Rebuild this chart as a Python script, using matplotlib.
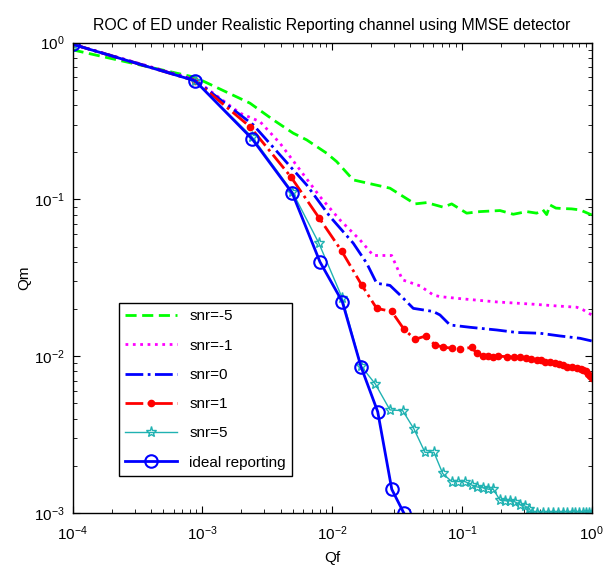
import numpy as np
import matplotlib
matplotlib.use("Agg")
import matplotlib.pyplot as plt

plt.rcParams['font.family'] = ['Liberation Sans', 'DejaVu Sans']
plt.rcParams['mathtext.default'] = 'regular'
plt.rcParams['mathtext.fontset'] = 'custom'
plt.rcParams['mathtext.rm'] = 'Liberation Sans'

# snr = -5
qf_m5 = [1e-4, 8.8e-4, 2.325e-3, 3.516e-3, 5.01e-3, 6.36e-3, 9.07e-3, 0.01083, 0.01454, 0.02789,
         0.04348, 0.05349, 0.0718, 0.0834, 0.1088, 0.1377, 0.1965, 0.2487, 0.3155, 0.3768,
         0.42, 0.45, 0.4772, 0.53, 0.6042, 0.7, 0.8124, 1.0]
qm_m5 = [0.898, 0.60, 0.4108, 0.3214, 0.2644, 0.2396, 0.197, 0.1742, 0.1331, 0.1179,
         0.0936, 0.0954, 0.0892, 0.0936, 0.0817, 0.0836, 0.0849, 0.0804, 0.0836, 0.0817,
         0.086, 0.080, 0.0922, 0.088, 0.0874, 0.087, 0.0857, 0.0796]

# snr = -1
qf_m1 = [1e-4, 8.8e-4, 1.948e-3, 2.778e-3, 3.96e-3, 5.65e-3, 8.05e-3, 0.01148, 0.01638, 0.02074,
         0.02874, 0.03482, 0.04751, 0.0601, 0.0677, 0.1024, 0.1853, 0.3548, 0.5374, 0.7665,
         0.8616, 1.0]
qm_m1 = [0.975, 0.58, 0.3546, 0.3134, 0.2283, 0.1542, 0.1042, 0.0740, 0.0552, 0.0439,
         0.0439, 0.0307, 0.0281, 0.0246, 0.0240, 0.0232, 0.0222, 0.02147, 0.02093, 0.02054,
         0.01974, 0.01834]

# snr = 0
qf_0 = [1e-4, 8.8e-4, 2.466e-3, 3.96e-3, 6.36e-3, 9.62e-3, 0.01454, 0.01845, 0.02203, 0.02789,
        0.03331, 0.04219, 0.0601, 0.0677, 0.0809, 0.1154, 0.1853, 0.2642, 0.3995, 0.5696,
        0.8124, 1.0]
qm_0 = [0.975, 0.575, 0.2986, 0.1922, 0.1237, 0.0777, 0.0526, 0.0392, 0.0292, 0.0283,
        0.0246, 0.0202, 0.0193, 0.01834, 0.01583, 0.0153, 0.01471, 0.01418, 0.01402, 0.01347,
        0.01302, 0.01252]

# snr = 1
qf_1 = [1e-4, 8.8e-4, 2.325e-3, 4.79e-3, 7.96e-3, 0.01183, 0.01688, 0.02203, 0.02874, 0.03576,
        0.04348, 0.05283, 0.06198, 0.0711, 0.0834, 0.0966, 0.1189, 0.1300, 0.1461, 0.16,
        0.175, 0.19, 0.2213, 0.25, 0.2802, 0.31, 0.34, 0.3768, 0.41, 0.44, 0.4772, 0.52,
        0.56, 0.6042, 0.65, 0.7, 0.7665, 0.82, 0.8616, 0.9, 0.9414, 0.97, 1.0]
qm_1 = [0.975, 0.57, 0.291, 0.1398, 0.0759, 0.0469, 0.0285, 0.0202, 0.0193, 0.01487,
        0.01284, 0.01347, 0.01181, 0.01146, 0.01125, 0.01113, 0.01138, 0.01045, 0.01004, 0.0101,
        0.00995, 0.01002, 0.00994, 0.0099, 0.00985, 0.0097, 0.00962, 0.00947, 0.0094, 0.00925, 0.00916, 0.009,
        0.00895, 0.0088, 0.0086, 0.00855, 0.00839, 0.0083, 0.00818, 0.008, 0.0077, 0.0075, 0.00724]

# snr = 5
qf_5 = [1e-4, 8.8e-4, 2.42e-3, 4.93e-3, 7.9e-3, 0.01197, 0.01668, 0.0215, 0.02789, 0.03496,
        0.04271, 0.0519, 0.06089, 0.0711, 0.0834, 0.0937, 0.1056, 0.1189, 0.13, 0.1461,
        0.1596, 0.1744, 0.1965, 0.2147, 0.2346, 0.2564, 0.2802, 0.3061, 0.3304, 0.3448,
        0.38, 0.42, 0.46, 0.5, 0.55, 0.6, 0.65, 0.7, 0.75, 0.8, 0.85, 0.9, 0.95, 1.0]
qm_5 = [0.975, 0.57, 0.25, 0.112, 0.0526, 0.0235, 0.00867, 0.00666, 0.00455, 0.0045,
        0.00344, 0.00244, 0.00244, 0.00179, 0.00159, 0.00159, 0.00159, 0.00151, 0.00147, 0.00145,
        0.00142, 0.00142, 0.00121, 0.0012, 0.0012, 0.00118, 0.00113, 0.00111, 0.00107, 0.001,
        0.001, 0.001, 0.001, 0.001, 0.001, 0.001, 0.001, 0.001, 0.001, 0.001, 0.001, 0.001, 0.001, 0.001]

# ideal reporting
qf_id = [1e-4, 8.8e-4, 2.42e-3, 4.93e-3, 8.05e-3, 0.01197, 0.01668, 0.02245, 0.0288, 0.0357]
qm_id = [0.975, 0.570, 0.243, 0.1096, 0.040, 0.0223, 0.00859, 0.00443, 0.00142, 0.001]

fig = plt.figure(figsize=(6.10, 5.67), dpi=100)
ax = fig.add_axes([0.119, 0.095, 0.851, 0.830])

ax.loglog(qf_m5, qm_m5, '--', color='#00ff00', lw=2.0, dashes=(4, 2), label='snr=-5')
ax.loglog(qf_m1, qm_m1, ':', color='#ff00ff', lw=2.0, label='snr=-1')
ax.loglog(qf_0, qm_0, '-.', color='#0000ff', lw=2.0, label='snr=0')
ax.loglog(qf_1, qm_1, '-.', color='#ff0000', lw=2.0, marker='.', ms=9, label='snr=1')
ax.loglog(qf_5, qm_5, '-', color='#20b2b2', lw=1.0, marker='*', ms=8, mfc='none', mew=1.0, label='snr=5')
ax.loglog(qf_id, qm_id, '-', color='#0000ff', lw=2.0, marker='o', ms=9, mfc='none', mew=1.5,
          label='ideal reporting')

ax.set_xlim(1e-4, 1)
ax.set_ylim(1e-3, 1)
ax.tick_params(which='both', direction='in', top=True, right=True, labelsize=11)
ax.tick_params(axis='x', which='major', pad=8)
ax.tick_params(axis='y', which='major', pad=6)
ax.tick_params(which='major', length=5)
ax.tick_params(which='minor', length=3)
for s in ax.spines.values():
    s.set_linewidth(1.0)

ax.set_title('ROC of ED under Realistic Reporting channel using MMSE detector', fontsize=11.4, pad=9)
ax.set_xlabel('Qf', fontsize=11, labelpad=6)
ax.set_ylabel('Qm', fontsize=11, labelpad=2)

leg = ax.legend(loc='lower left', bbox_to_anchor=(0.0898, 0.0793), borderaxespad=0,
                fancybox=False, edgecolor='black', fontsize=11, handlelength=3.4,
                labelspacing=1.0, framealpha=1)
leg.get_frame().set_linewidth(1.0)

fig.savefig('out.png', dpi=100)
